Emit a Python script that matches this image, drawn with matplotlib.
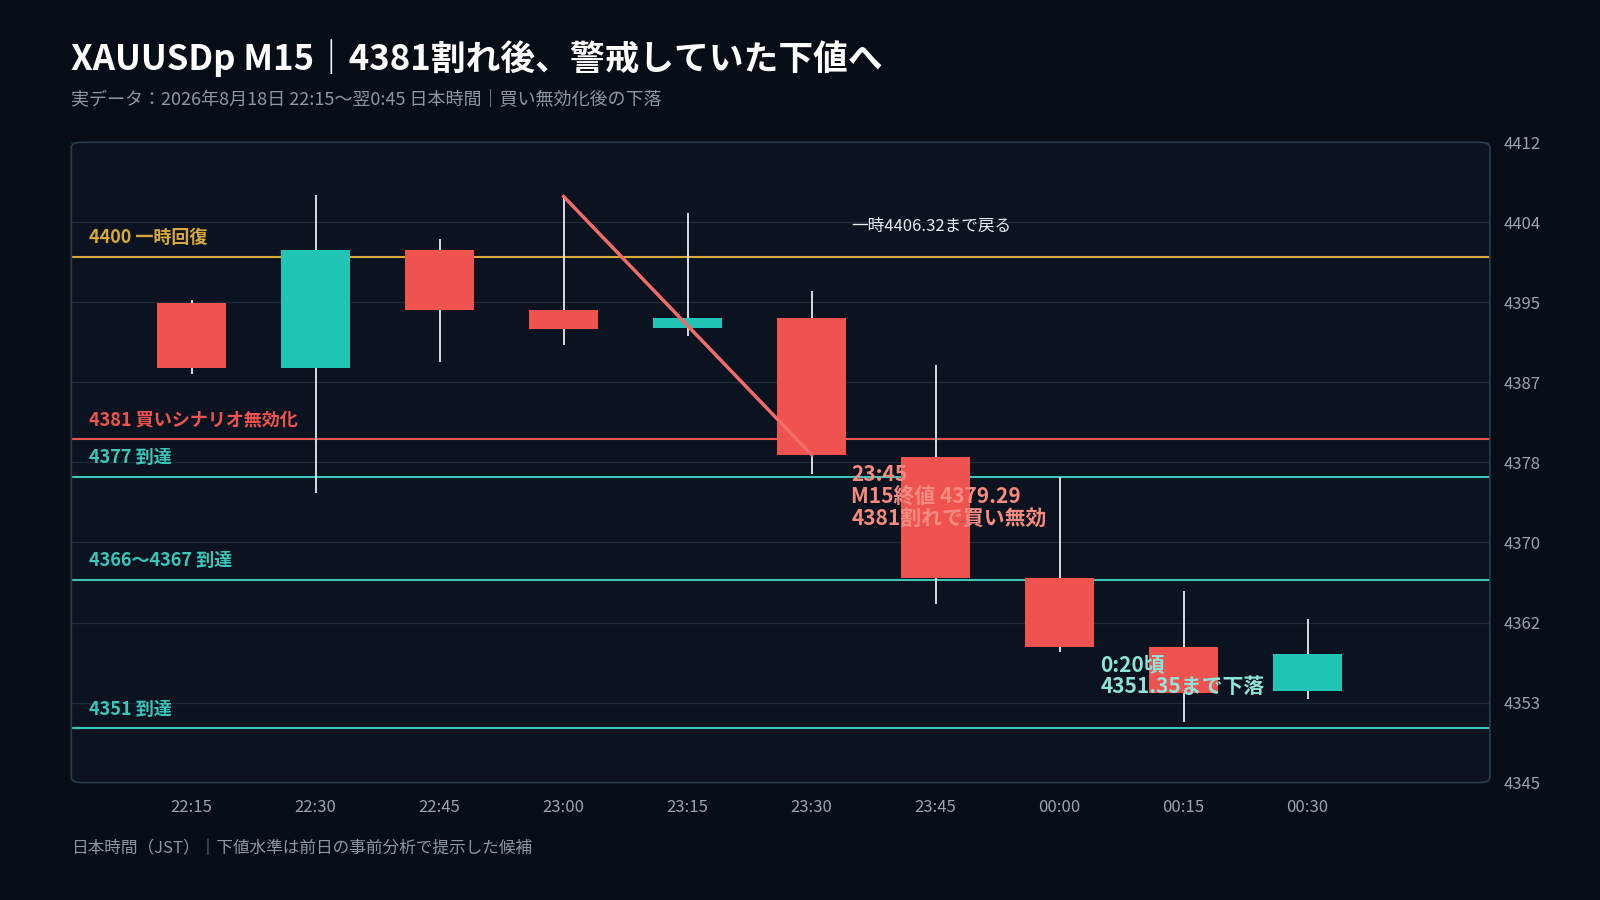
import matplotlib
matplotlib.use("Agg")
import matplotlib.pyplot as plt
import numpy as np
from matplotlib.patches import FancyBboxPatch

plt.rcParams['font.family'] = ['Noto Sans CJK JP', 'DejaVu Sans']

times = ["22:15", "22:30", "22:45", "23:00", "23:15", "23:30", "23:45", "00:00", "00:15", "00:30"]
opens = [4395.2, 4388.4, 4400.7, 4394.4, 4392.6, 4393.6, 4379.1, 4366.4, 4359.2, 4354.6]
closes = [4388.4, 4400.7, 4394.4, 4392.5, 4393.6, 4379.29, 4366.4, 4359.2, 4354.4, 4358.5]
highs = [4395.5, 4406.5, 4401.9, 4406.32, 4404.6, 4396.4, 4388.7, 4377.0, 4365.1, 4362.1]
lows = [4387.7, 4375.3, 4389.0, 4390.8, 4391.7, 4377.3, 4363.7, 4358.7, 4351.35, 4353.8]
levels = [4400, 4381, 4377, 4366.2, 4350.7]
level_labels = ["4400 一時回復", "4381 買いシナリオ無効化", "4377 到達", "4366〜4367 到達", "4351 到達"]
level_colors = ["#d9a83a", "#ef5350", "#3cc6b8", "#3cc6b8", "#3cc6b8"]
yticks = np.linspace(4345, 4412, 9)

BG = "#070d16"; AX = "#0a131f"; RED = "#ef5350"; GREEN = "#22c4b5"

fig = plt.figure(figsize=(16, 9), dpi=100, facecolor=BG)
ax = fig.add_axes([0.0446, 0.1304, 0.8866, 0.7116])
ax.set_facecolor(AX)
ax.set_xlim(-0.97, 10.47)
ax.set_ylim(4345, 4412)
for s in ax.spines.values():
    s.set_visible(False)
frame = FancyBboxPatch((0, 0), 1, 1, boxstyle="round,pad=0,rounding_size=0.008",
                       transform=ax.transAxes, fill=False, ec="#2b3b4c", lw=1.2, clip_on=False, zorder=6)
ax.add_patch(frame)
ax.set_yticks(yticks)
ax.set_yticklabels([f"{v:.0f}" for v in yticks])
ax.yaxis.tick_right()
ax.tick_params(axis='y', length=0, colors="#9aa4b0", labelsize=12, pad=10)
ax.set_xticks(range(len(times)))
ax.set_xticklabels(times)
ax.tick_params(axis='x', length=0, colors="#9aa4b0", labelsize=12, pad=12)
for v in yticks:
    ax.axhline(v, color="#1c2937", lw=1, zorder=0)

for lv, lab, c in zip(levels, level_labels, level_colors):
    ax.axhline(lv, color=c, lw=1.5, zorder=1)
    ax.text(-0.83, lv + 1.0, lab, color=c, fontsize=13, fontweight='bold', va='bottom', ha='left')

w = 0.56
for i, (o, c, h, l) in enumerate(zip(opens, closes, highs, lows)):
    col = GREEN if c >= o else RED
    ax.vlines(i, l, h, color="#e8ecef", lw=1.3, zorder=2)
    ax.bar(i, abs(c - o), bottom=min(o, c), width=w, color=col, zorder=3)

ax.plot([3, 5], [highs[3], closes[5]], color="#f26b6b", lw=2.5, zorder=4)
ax.text(5.32, 4403.2, "一時4406.32まで戻る", color="#e8ecef", fontsize=12, va='center')
ax.text(5.32, 4378.3, "23:45\nM15終値 4379.29\n4381割れで買い無効", color="#f58a80",
        fontsize=15, fontweight='bold', va='top', linespacing=1.05, zorder=5)
ax.text(7.33, 4358.4, "0:20頃\n4351.35まで下落", color="#8fe3d8",
        fontsize=15, fontweight='bold', va='top', linespacing=1.05, zorder=5)

fig.text(0.0446, 0.935, "XAUUSDp M15｜4381割れ後、警戒していた下値へ", color="white",
         fontsize=25, fontweight='bold', va='center')
fig.text(0.0446, 0.889, "実データ：2026年8月18日 22:15〜翌0:45 日本時間｜買い無効化後の下落",
         color="#8d96a2", fontsize=13, va='center')
fig.text(0.0446, 0.057, "日本時間（JST）｜下値水準は前日の事前分析で提示した候補",
         color="#8d96a2", fontsize=12, va='center')

fig.savefig("out.png", dpi=100, facecolor=BG)
